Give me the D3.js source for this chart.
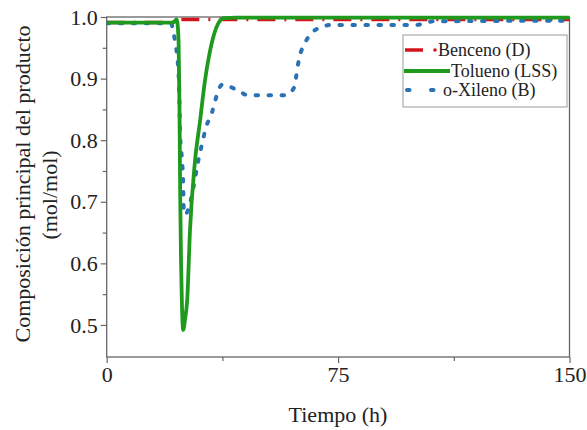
<!DOCTYPE html>
<html><head><meta charset="utf-8">
<script src="https://cdn.jsdelivr.net/npm/d3@7"></script>
<style>body{margin:0;background:#fff}svg{display:block}text{font-family:"Liberation Serif","Times New Roman",serif;fill:#222}</style>
</head><body><svg id="c" width="587" height="430"></svg>
<script>
const xTicks = [0, 75, 150];
const xMinor = [37.5, 112.5];
const yTicks = [0.5, 0.6, 0.7, 0.8, 0.9, 1.0];
const yMinor = [0.55, 0.65, 0.75, 0.85, 0.95];
const seriesNames = ["Benceno (D)", "Tolueno (LSS)", "o-Xileno (B)"];

const bencenoT = [0, 22, 23, 150];
const bencenoV = [0.991, 0.991, 0.996, 0.996];

const toluenoT = [0, 21.5, 22.7, 23.3, 23.6, 23.8, 24.1, 24.4, 24.8, 25.4, 26.1, 27.0, 28.5, 30.3, 31.8, 33.3, 34.8, 36.2, 38, 42, 150];
const toluenoV = [0.991, 0.991, 0.996, 0.96, 0.85, 0.72, 0.6, 0.53, 0.492, 0.51, 0.541, 0.654, 0.76, 0.833, 0.895, 0.94, 0.972, 0.99, 0.998, 0.999, 0.999];

const xilenoT = [0, 20.8, 21.3, 22.2, 23.1, 23.5, 23.8, 24.4, 24.8, 24.95, 25.3, 26.4, 27.7, 28.7, 29.6, 30.9, 32.2, 34.2, 35.2, 37.4, 41.7, 45.9, 50.4, 57.9, 60.8, 61.8, 62.4, 64.4, 67.6, 72.8, 100, 106, 150];
const xilenoV = [0.99, 0.99, 0.984, 0.958, 0.922, 0.881, 0.808, 0.768, 0.727, 0.69, 0.679, 0.687, 0.713, 0.74, 0.765, 0.794, 0.821, 0.846, 0.865, 0.89, 0.883, 0.873, 0.873, 0.873, 0.886, 0.917, 0.933, 0.959, 0.979, 0.987, 0.987, 0.993, 0.994];

const svg = d3.select("#c");
const L = 106.7, R = 569.5, T = 17, B = 357;
const x = d3.scaleLinear().domain([0, 150]).range([L, R]);
const y = d3.scaleLinear().domain([0.448, 1.0]).range([B, T]);
const frameCol = "#666";

const clip = svg.append("defs").append("clipPath").attr("id", "pc");
clip.append("rect").attr("x", L).attr("y", T - 3).attr("width", R - L).attr("height", B - T + 3);

// axes
svg.append("g").attr("transform", `translate(0,${B})`)
  .call(d3.axisBottom(x).tickValues(xTicks).tickSize(6).tickPadding(3).tickFormat(d3.format("d")));
svg.append("g").attr("transform", `translate(0,${B})`)
  .call(d3.axisBottom(x).tickValues(xMinor).tickSize(4).tickFormat(""));
svg.append("g").attr("transform", `translate(${L},0)`)
  .call(d3.axisLeft(y).tickValues(yTicks).tickSize(6).tickPadding(3).tickFormat(d3.format(".1f")));
svg.append("g").attr("transform", `translate(${L},0)`)
  .call(d3.axisLeft(y).tickValues(yMinor).tickSize(4).tickFormat(""));
svg.selectAll(".domain").remove();
svg.selectAll(".tick line").attr("stroke", frameCol).attr("stroke-width", 1.2);
svg.selectAll(".tick text").style("font-family", "'Liberation Serif', serif").style("font-size", "22px").attr("fill", "#222");

// frame
svg.append("rect").attr("x", L).attr("y", T).attr("width", R - L).attr("height", B - T)
  .attr("fill", "none").attr("stroke", frameCol).attr("stroke-width", 1.3);

const mk = (ts, vs) => ts.map((t, i) => [t, vs[i]]);
const line = d3.line().x(d => x(d[0])).y(d => y(d[1])).curve(d3.curveMonotoneX);
const g = svg.append("g").attr("clip-path", "url(#pc)");

g.append("path").datum(mk(bencenoT, bencenoV)).attr("d", line)
  .attr("fill", "none").attr("stroke", "#d4141c").attr("stroke-width", 3.5)
  .attr("stroke-dasharray", "18,9,2,9");
g.append("path").datum(mk(xilenoT, xilenoV)).attr("d", line)
  .attr("fill", "none").attr("stroke", "#2a72b5").attr("stroke-width", 4)
  .attr("stroke-linecap", "round").attr("stroke-dasharray", "2.5,10.5");
g.append("path").datum(mk(toluenoT, toluenoV)).attr("d", line)
  .attr("fill", "none").attr("stroke", "#1f9a1f").attr("stroke-width", 3.8);

// legend
const lg = svg.append("g");
lg.append("rect").attr("x", 403).attr("y", 35).attr("width", 164).attr("height", 72)
  .attr("fill", "#fff").attr("stroke", "#999").attr("stroke-width", 1);
lg.append("line").attr("x1", 405).attr("x2", 423).attr("y1", 50).attr("y2", 50)
  .attr("stroke", "#d4141c").attr("stroke-width", 3.5);
lg.append("circle").attr("cx", 435).attr("cy", 50).attr("r", 1.8).attr("fill", "#d4141c");
lg.append("line").attr("x1", 404).attr("x2", 450).attr("y1", 71).attr("y2", 71)
  .attr("stroke", "#1f9a1f").attr("stroke-width", 3.8);
lg.append("line").attr("x1", 407).attr("x2", 434).attr("y1", 90).attr("y2", 90)
  .attr("stroke", "#2a72b5").attr("stroke-width", 4).attr("stroke-linecap", "round")
  .attr("stroke-dasharray", "2.5,21.5");
const lx = [438, 451, 443], ly = [50, 71, 90];
seriesNames.forEach((n, i) => {
  lg.append("text").attr("x", lx[i]).attr("y", ly[i]).attr("dy", "0.35em")
    .style("font-size", "18px").text(n);
});

// axis titles
svg.append("text").attr("x", 338).attr("y", 422).attr("text-anchor", "middle")
  .style("font-size", "22px").text("Tiempo (h)");
svg.append("text").attr("transform", "translate(30,184) rotate(-90)").attr("text-anchor", "middle")
  .style("font-size", "22px").text("Composición principal del producto");
svg.append("text").attr("transform", "translate(57,195) rotate(-90)").attr("text-anchor", "middle")
  .style("font-size", "22px").text("(mol/mol)");
</script></body></html>
